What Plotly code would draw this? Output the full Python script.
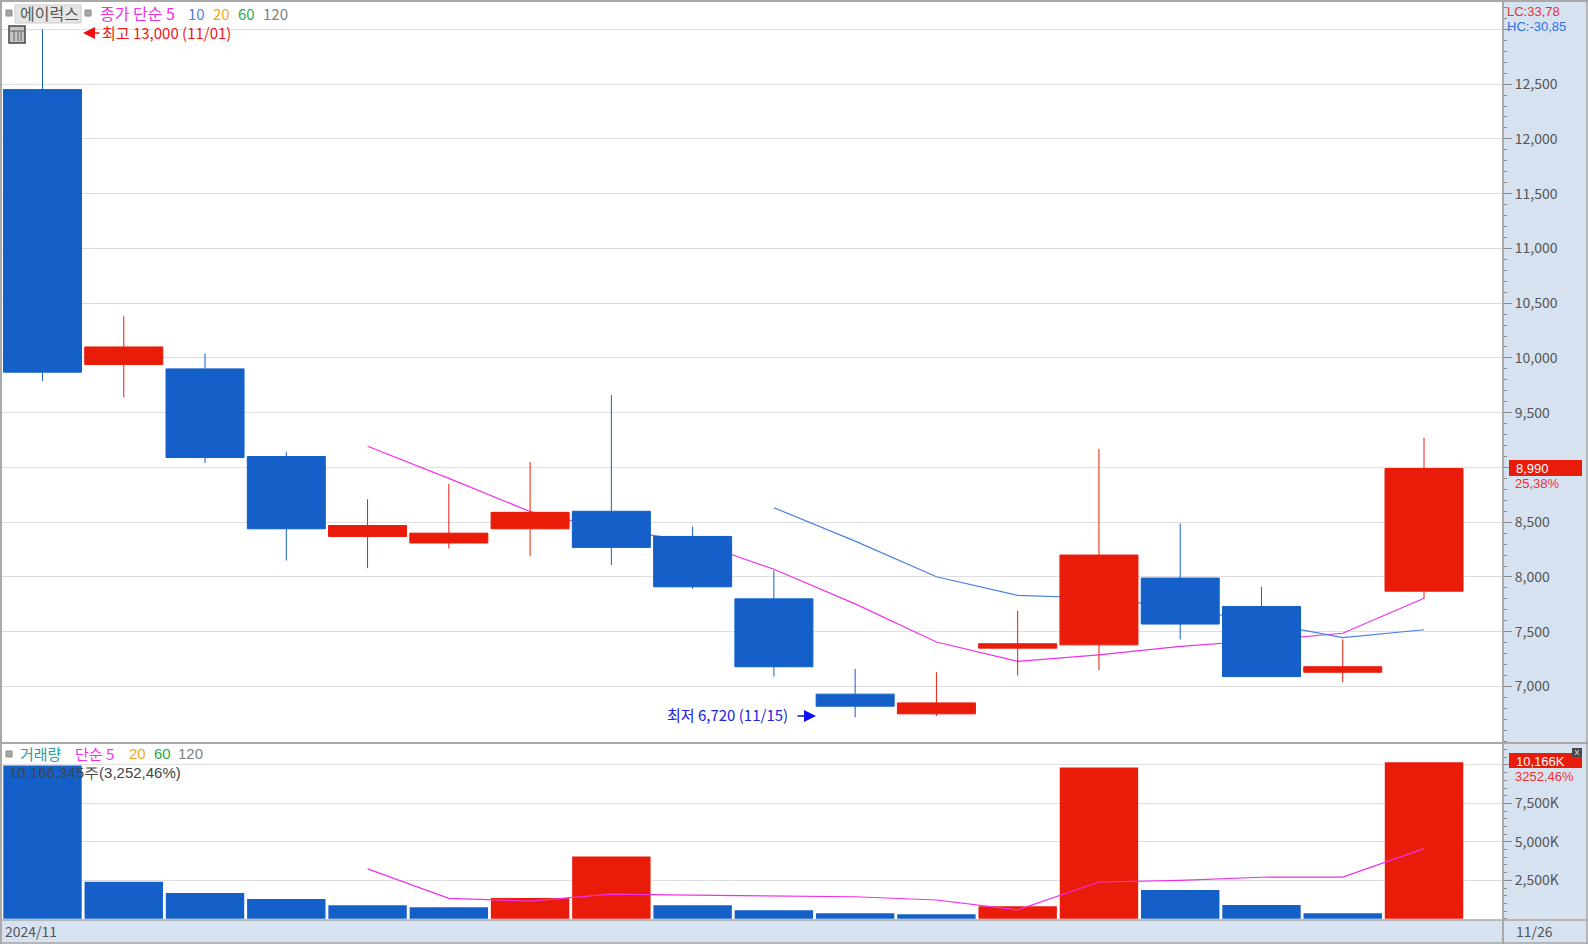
import plotly.graph_objects as go

W, H = 1588, 944
AXIS_X = 1503

dates = ["11/01","11/04","11/05","11/06","11/07","11/08","11/11","11/12","11/13",
         "11/14","11/15","11/18","11/19","11/20","11/21","11/22","11/25","11/26"]
opens  = [12450,9940,9900,9100,8370,8310,8440,8600,8370,7800,6930,6750,7350,7380,7990,7730,7130,7870]
highs  = [13000,10380,10040,9140,8710,8850,9050,9660,8460,8060,7160,7130,7690,9170,8490,7910,7430,9270]
lows   = [9790,9640,9040,8150,8080,8260,8190,8110,7890,7090,6720,6730,7100,7150,7430,7090,7040,7800]
closes = [9870,10100,9090,8440,8470,8400,8590,8270,7910,7180,6820,6850,7390,8200,7570,7090,7180,8990]
ma5  = [None,None,None,None,9194,8900,8598,8434,8328,8070,7754,7406,7230,7288,7366,7420,7486,7806]
ma10 = [None]*9 + [8632,8327,8002,7832,7808,7718,7587,7446,7518]
volumes = [9970,2400,1670,1280,885,750,1345,4040,885,550,360,290,820,9840,1870,900,360,10166]
vol_ma5 = [None,None,None,None,3240,1330,1150,1600,1540,1500,1430,1220,575,2390,2500,2700,2710,4560]

price_ticks = [7000,7500,8000,8500,9000,9500,10000,10500,11000,11500,12000,12500,13000]
price_labels = ["7,000","7,500","8,000","8,500","","9,500","10,000","10,500","11,000","11,500","12,000","12,500",""]
vol_ticks = [2500,5000,7500,10000]
vol_labels = ["2,500K","5,000K","7,500K",""]

RED, BLUE = "#E91C0A", "#1460C8"
PAPER = "#D6E2F0"
GRID = "#DEDEDE"
EDGE = "#A9A9A9"
TXT = "#555555"
FONT = "Noto Sans CJK KR"
LATIN = "Liberation Sans"
MAGENTA = "#F030E8"

def px(x): return x / W
def py(y): return 1 - y / H

vol_colors = [BLUE] + [RED if volumes[i] > volumes[i-1] else BLUE for i in range(1, len(volumes))]

fig = go.Figure()
fig.add_trace(go.Scatter(x=dates, y=ma5, mode="lines", line=dict(color=MAGENTA, width=1.2), xaxis="x", yaxis="y", hoverinfo="skip"))
fig.add_trace(go.Scatter(x=dates, y=ma10, mode="lines", line=dict(color="#4A80E0", width=1.2), xaxis="x", yaxis="y", hoverinfo="skip"))
fig.add_trace(go.Candlestick(x=dates, open=opens, high=highs, low=lows, close=closes, xaxis="x", yaxis="y3",
    whiskerwidth=0,
    increasing=dict(line=dict(color=RED, width=1), fillcolor=RED),
    decreasing=dict(line=dict(color=BLUE, width=1), fillcolor=BLUE)))
fig.add_trace(go.Bar(x=dates, y=volumes, marker=dict(color=vol_colors, line=dict(width=0)), width=0.965, xaxis="x2", yaxis="y2"))
fig.add_trace(go.Scatter(x=dates, y=vol_ma5, mode="lines", line=dict(color=MAGENTA, width=1.2), xaxis="x2", yaxis="y2", hoverinfo="skip"))

XR = [-0.523, 17.972]
PR = [6493, 13250]
VR = [-80, 11360]
xd = [0, px(AXIS_X)]
price_dom = [py(742), py(2)]
vol_dom = [py(920), py(744)]

yprice = dict(domain=price_dom, range=PR, side="right", tickmode="array", tickvals=price_ticks, ticktext=price_labels,
              showgrid=True, gridcolor=GRID, gridwidth=1, ticks="outside", ticklen=8, tickcolor="#8A8A8A", zeroline=False,
              minor=dict(dtick=100, tick0=0, ticks="outside", ticklen=3, tickcolor="#8A8A8A", showgrid=False),
              tickfont=dict(family=FONT, size=14, color=TXT), showline=False, anchor="x", fixedrange=True)

fig.update_layout(
    width=W, height=H, margin=dict(l=0, r=0, t=0, b=0), autosize=False,
    paper_bgcolor=PAPER, plot_bgcolor="white", showlegend=False,
    boxgap=0.04, boxgroupgap=0, bargap=0.03, hovermode=False,
    font=dict(family=FONT, size=14, color=TXT),
    xaxis=dict(domain=xd, range=XR, type="category", categoryorder="array", categoryarray=dates, showticklabels=False, ticks="",
               showgrid=False, zeroline=False, rangeslider=dict(visible=False), anchor="y", fixedrange=True),
    xaxis2=dict(domain=xd, range=XR, type="category", categoryorder="array", categoryarray=dates, showticklabels=False, ticks="",
                showgrid=False, zeroline=False, anchor="y2", fixedrange=True),
    yaxis=yprice,
    yaxis3=dict(range=PR, overlaying="y", side="right", showgrid=False, showticklabels=False, ticks="", zeroline=False, anchor="x", fixedrange=True),
    yaxis2=dict(domain=vol_dom, range=VR, side="right", tickmode="array", tickvals=vol_ticks, ticktext=vol_labels,
                showgrid=True, gridcolor=GRID, ticks="outside", ticklen=8, tickcolor="#8A8A8A", zeroline=False,
                minor=dict(dtick=500, tick0=0, ticks="outside", ticklen=3, tickcolor="#8A8A8A", showgrid=False),
                tickfont=dict(family=FONT, size=14, color=TXT), anchor="x2", fixedrange=True),
)

shapes = []
def rect(x0, y0, x1, y1, fill=None, line=None, lw=1):
    shapes.append(dict(type="rect", xref="paper", yref="paper", x0=px(x0), x1=px(x1), y0=py(y0), y1=py(y1),
                       fillcolor=fill or "rgba(0,0,0,0)", line=dict(color=line or "rgba(0,0,0,0)", width=lw if line else 0), layer="above"))
def seg(x0, y0, x1, y1, color=EDGE, lw=2):
    shapes.append(dict(type="line", xref="paper", yref="paper", x0=px(x0), x1=px(x1), y0=py(y0), y1=py(y1),
                       line=dict(color=color, width=lw), layer="above"))

# frame
seg(0, 1, W, 1); seg(1, 0, 1, H); seg(AXIS_X, 0, AXIS_X, H); seg(0, 743, W, 743); seg(0, 920, W, 920, lw=1.5)
seg(W-1, 0, W-1, H, lw=1.5); seg(0, H-1, W, H-1, lw=1.5)
# legend icons
for x, y in [(9, 13), (88, 13), (9, 754)]:
    rect(x-3, y-3, x+3, y+3, fill="#A8A8A8", line="#8A8A8A")
rect(15, 5, 81, 23, fill="#E6E6E6", line="#CFCFCF")
rect(9, 26, 25, 43, fill="#C4C4C4", line="#444444", lw=1.5)
for x in (14, 18, 21):
    seg(x, 31, x, 41, color="#666666", lw=1)
seg(10, 31, 24, 31, color="#666666", lw=1)
# value badges
rect(1509, 460, 1582, 476, fill=RED)
rect(1509, 753, 1582, 768, fill=RED)
rect(1572, 748, 1582, 757, fill="#4A4A4A")
seg(1575, 750, 1579, 755, color="#DDDDDD", lw=1)
seg(1579, 750, 1575, 755, color="#DDDDDD", lw=1)

anns = []
def text(x, y, s, color=TXT, size=14, anchor="left", family=FONT):
    anns.append(dict(xref="paper", yref="paper", x=px(x), y=py(y), text=s, showarrow=False, xanchor=anchor, yanchor="middle",
                     font=dict(family=family, size=size, color=color)))

text(18, 13, "에이럭스", "#555555", 16)
text(98, 13, "종가 단순 5", MAGENTA, 16)
text(186, 13, "10", "#4A80E0", 15)
text(211, 13, "20", "#F0A820", 15)
text(236, 13, "60", "#2CA84C", 15)
text(261, 13, "120", "#808080", 15)
text(100, 33, "최고 13,000 (11/01)", "#F01818", 15)
text(665, 714, "최저 6,720 (11/15)", "#2020E0", 15)
text(18, 753, "거래량", "#2E9AA0", 15)
text(73, 753, "단순 5", MAGENTA, 15)
text(127, 753, "20", "#F0A820", 15, family=LATIN)
text(152, 753, "60", "#2CA84C", 15, family=LATIN)
text(176, 753, "120", "#808080", 15, family=LATIN)
text(7, 772, "10,166,345주(3,252,46%)", "#444444", 15, family=LATIN)
text(3, 931, "2024/11", "#555555", 14)
text(1514, 931, "11/26", "#555555", 14)
text(1505, 12, "LC:33,78", "#F03030", 13, family=LATIN)
text(1505, 27, "HC:-30,85", "#3070E0", 13, family=LATIN)
text(1514, 468, "8,990", "white", 13, family=LATIN)
text(1513, 484, "25,38%", "#F03030", 13, family=LATIN)
text(1514, 761, "10,166K", "white", 13, family=LATIN)
text(1513, 776, "3252,46%", "#F03030", 13, family=LATIN)

# pointers
anns.append(dict(xref="paper", yref="paper", x=px(83), y=py(33), ax=18, ay=0, axref="pixel", ayref="pixel", text="",
                 showarrow=True, arrowhead=2, arrowsize=1.5, arrowwidth=1.6, arrowcolor="#F01010"))
anns.append(dict(xref="paper", yref="paper", x=px(816), y=py(716), ax=-20, ay=0, axref="pixel", ayref="pixel", text="",
                 showarrow=True, arrowhead=2, arrowsize=1.5, arrowwidth=1.6, arrowcolor="#1010F0"))

fig.update_layout(shapes=shapes, annotations=anns)
fig.write_html("out.html", post_script="document.body.style.margin='0';document.body.style.overflow='hidden';",
               config=dict(displayModeBar=False))
